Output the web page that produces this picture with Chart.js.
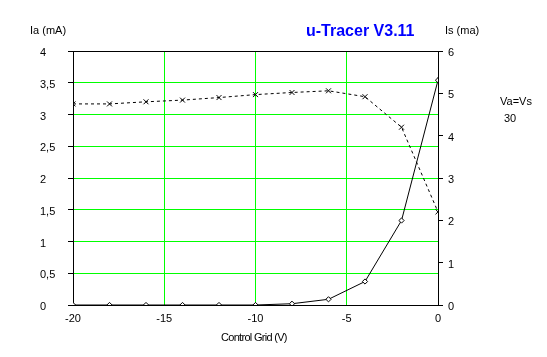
<!DOCTYPE html>
<html>
<head>
<meta charset="utf-8">
<script src="https://cdn.jsdelivr.net/npm/chart.js@4"></script>
<style>
  html, body { margin: 0; padding: 0; background: #fff; }
  #wrap { position: relative; width: 547px; height: 357px; overflow: hidden; background: #fff; }
  #c { position: absolute; left: 0; top: 0; }
  .t { position: absolute; font-family: "Liberation Sans", Arial, sans-serif; font-size: 11px; line-height: 11px; color: #000; white-space: nowrap; }
  #title { font-size: 16px; line-height: 16px; font-weight: bold; color: #0000ff; left: 306px; top: 23px; }
</style>
</head>
<body>
<div id="wrap">
  <canvas id="c" width="547" height="357"></canvas>
  <div class="t" id="title">u-Tracer V3.11</div>
  <div class="t" style="left:30px; top:25px;">Ia (mA)</div>
  <div class="t" style="left:445px; top:25px;">Is (ma)</div>
  <div class="t" style="left:500px; top:96px;">Va=Vs</div>
  <div class="t" style="left:504px; top:113px;">30</div>
  <div class="t" style="left:221px; top:332px; letter-spacing:-0.7px;">Control Grid (V)</div>
</div>
<script>
// ---- data ----
const gridVolts = [-20, -18, -16, -14, -12, -10, -8, -6, -4, -2, 0];
const iaValues  = [0, 0, 0, 0, 0, 0, 0.02, 0.09, 0.37, 1.33, 3.54];
const isValues  = [4.75, 4.75, 4.80, 4.84, 4.90, 4.97, 5.02, 5.06, 4.92, 4.20, 2.20];
const xTickValues  = [-20, -15, -10, -5, 0];
const xTickLabels  = ['-20', '-15', '-10', '-5', '0'];
const iaTickLabels = ['0', '0,5', '1', '1,5', '2', '2,5', '3', '3,5', '4'];
const isTickLabels = ['0', '1', '2', '3', '4', '5', '6'];

const iaPoints = gridVolts.map((v, i) => ({ x: v, y: iaValues[i] }));
const isPoints = gridVolts.map((v, i) => ({ x: v, y: isValues[i] }));

const frame = {
  id: 'frame',
  beforeDatasetsDraw(chart) {
    const a = chart.chartArea, ctx = chart.ctx;
    ctx.save();
    ctx.strokeStyle = '#000';
    ctx.lineWidth = 1;
    ctx.strokeRect(Math.round(a.left) + 0.5, Math.round(a.top) + 0.5,
                   Math.round(a.right - a.left), Math.round(a.bottom - a.top));
    ctx.restore();
  }
};

const font = { family: '"Liberation Sans", Arial, sans-serif', size: 11 };
const GREEN = 'rgb(0,255,0)';

new Chart(document.getElementById('c'), {
  type: 'line',
  data: {
    datasets: [
      {
        label: 'Ia', data: iaPoints, yAxisID: 'y',
        borderColor: '#000', borderWidth: 1, tension: 0,
        pointStyle: 'rectRot', pointRadius: 2.6, pointBackgroundColor: '#fff',
        pointBorderColor: '#000', pointBorderWidth: 1
      },
      {
        label: 'Is', data: isPoints, yAxisID: 'y1',
        borderColor: '#000', borderWidth: 1, borderDash: [3, 3], tension: 0,
        pointStyle: 'crossRot', pointRadius: 3.5, pointBorderColor: '#000',
        pointBorderWidth: 1
      }
    ]
  },
  options: {
    responsive: false,
    animation: false,
    devicePixelRatio: 1,
    layout: { padding: { left: 40, top: 51, right: 0, bottom: 0 } },
    plugins: { legend: { display: false }, tooltip: { enabled: false }, title: { display: false } },
    scales: {
      x: {
        type: 'linear', min: -20, max: 0,
        afterBuildTicks: s => { s.ticks = xTickValues.map(v => ({ value: v })); },
        afterFit: s => { s.height = 52; },
        grid: { color: GREEN, lineWidth: 1, drawTicks: false },
        border: { display: false },
        ticks: { color: '#000', font, padding: 7, maxRotation: 0,
                 callback: (v, i) => xTickLabels[i] }
      },
      y: {
        position: 'left', min: 0, max: 4,
        ticks: { stepSize: 0.5, color: '#000', font, crossAlign: 'far', padding: 4, labelOffset: 2,
                 callback: (v, i) => iaTickLabels[i] },
        afterFit: s => { s.width = 33; },
        grid: { color: GREEN, lineWidth: 1, tickColor: '#000', tickLength: 5, drawTicks: true },
        border: { display: false }
      },
      y1: {
        position: 'right', min: 0, max: 6,
        ticks: { stepSize: 1, color: '#000', font, padding: 5, labelOffset: 2,
                 callback: (v, i) => isTickLabels[i] },
        afterFit: s => { s.width = 109; },
        grid: { drawOnChartArea: false, tickColor: '#000', tickLength: 5, drawTicks: true },
        border: { display: false }
      }
    }
  },
  plugins: [frame]
});
</script>
</body>
</html>
